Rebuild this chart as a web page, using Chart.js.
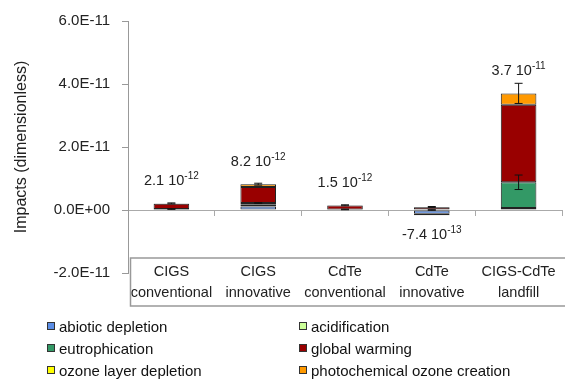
<!DOCTYPE html>
<html>
<head>
<meta charset="utf-8">
<script src="https://cdn.jsdelivr.net/npm/chart.js@4"></script>
<style>
  html, body { margin: 0; padding: 0; background: #fff; }
  #wrap { position: relative; width: 565px; height: 381px; }
  #legend {
    position: absolute; left: 47px; top: 315px;
    display: grid; grid-template-columns: 252px auto; grid-auto-rows: 22px;
    font: 15px 'Liberation Sans', Arial, sans-serif; color: #111;
  }
  #legend div { display: flex; align-items: center; }
  #legend span.sw { width: 6px; height: 6px; border: 1px solid #333; margin-right: 4px; }
</style>
</head>
<body>
<div id="wrap">
  <canvas id="impactChart"></canvas>
  <div id="legend"></div>
</div>
<script>
const categories = [['CIGS', 'conventional'], ['CIGS', 'innovative'], ['CdTe', 'conventional'], ['CdTe', 'innovative'], ['CIGS-CdTe', 'landfill']];
const seriesNames = ['abiotic depletion', 'acidification', 'eutrophication', 'global warming', 'ozone layer depletion', 'photochemical ozone creation'];
const seriesColors = ['#5b8ee6', '#ccff99', '#339966', '#990000', '#ffff00', '#ff9900'];

const abiotic = [0.10e-12, 1.10e-12, 0.05e-12, -1.20e-12, 0.30e-12];
const acidification = [0.05e-12, 0.60e-12, 0.03e-12, -0.05e-12, 0.30e-12];
const eutrophication = [0.15e-12, 0.50e-12, 0.10e-12, -0.45e-12, 8.20e-12];
const globalWarming = [1.70e-12, 5.10e-12, 1.25e-12, 0.90e-12, 24.6e-12];
const ozoneDepletion = [0.00, 0.02e-12, 0.00, 0.00, 0.02e-12];
const photochemical = [0.10e-12, 0.88e-12, 0.07e-12, 0.06e-12, 3.60e-12];

const errTotal = [0.15e-12, 0.3e-12, 0.15e-12, 0.15e-12, 3.2e-12];
const errEutro = [0.1e-12, 0.15e-12, 0.1e-12, 0.1e-12, 2.3e-12];

const totalMantissa = ['2.1', '8.2', '1.5', '-7.4', '3.7'];
const totalExponent = ['-12', '-12', '-12', '-13', '-11'];

const yTicks = [-2e-11, 0, 2e-11, 4e-11, 6e-11];

const FONT = "'Liberation Sans', Arial, sans-serif";
const series = [abiotic, acidification, eutrophication, globalWarming, ozoneDepletion, photochemical];

function fmtExp(v) {
    if (Math.abs(v) < 1e-15) return '0.0E+00';
    const parts = v.toExponential(1).split('e');
    const e = parseInt(parts[1], 10);
    return parts[0] + 'E' + (e < 0 ? '-' : '+') + String(Math.abs(e)).padStart(2, '0');
}

const overlay = {
    id: 'overlay',
    beforeDatasetsDraw(chart) {
        // box holding the category names
        const ctx = chart.ctx, a = chart.chartArea;
        ctx.save();
        ctx.strokeStyle = '#999';
        ctx.lineWidth = 1.5;
        ctx.strokeRect(a.left + 2.5, a.bottom - 15, chart.width, 48);
        ctx.restore();
    },
    afterDatasetsDraw(chart) {
        const ctx = chart.ctx;
        const x = chart.scales.x, y = chart.scales.y;
        ctx.save();
        ctx.strokeStyle = '#111';
        ctx.lineWidth = 1;
        categories.forEach((c, i) => {
            let pos = 0, neg = 0, eut = 0;
            series.forEach((s, k) => {
                if (s[i] >= 0) pos += s[i]; else neg += s[i];
                if (k === 2) eut = pos;
            });
            const cx = x.getPixelForValue(i);
            [[pos, errTotal[i]], [eut, errEutro[i]]].forEach(([v, e]) => {
                const y1 = y.getPixelForValue(v + e), y2 = y.getPixelForValue(v - e);
                ctx.beginPath();
                ctx.moveTo(cx, y1); ctx.lineTo(cx, y2);
                ctx.moveTo(cx - 4, y1); ctx.lineTo(cx + 4, y1);
                ctx.moveTo(cx - 4, y2); ctx.lineTo(cx + 4, y2);
                ctx.stroke();
            });
            // value label with superscript exponent
            const ty = (pos + neg) >= 0 ? y.getPixelForValue(pos) - 22 : y.getPixelForValue(neg) + 20;
            const main = totalMantissa[i] + ' 10';
            ctx.font = '14.5px ' + FONT;
            const w1 = ctx.measureText(main).width;
            ctx.font = '10px ' + FONT;
            const w2 = ctx.measureText(totalExponent[i]).width;
            const x0 = cx - (w1 + w2) / 2;
            ctx.fillStyle = '#222';
            ctx.textBaseline = 'middle';
            ctx.textAlign = 'left';
            ctx.font = '14.5px ' + FONT;
            ctx.fillText(main, x0, ty);
            ctx.font = '10px ' + FONT;
            ctx.fillText(totalExponent[i], x0 + w1, ty - 5);
        });
        ctx.restore();
    }
};

new Chart(document.getElementById('impactChart').getContext('2d'), {
    type: 'bar',
    data: {
        labels: categories.map(c => c.join(' ')),
        datasets: series.map((s, k) => ({
            label: seriesNames[k],
            data: s,
            backgroundColor: seriesColors[k],
            borderColor: '#222',
            borderWidth: 1,
            borderSkipped: false,
            barPercentage: 0.41,
            categoryPercentage: 1.0
        }))
    },
    options: {
        responsive: true,
        maintainAspectRatio: false,
        animation: false,
        layout: { padding: { top: 17, right: 3, bottom: 108, left: 0 } },
        plugins: { legend: { display: false }, tooltip: { enabled: false } },
        scales: {
            x: {
                stacked: true,
                position: { y: 0 },
                offset: true,
                ticks: { display: false },
                grid: { offset: true, drawOnChartArea: false, tickLength: 5, color: '#aaa' },
                border: { color: '#aaa' }
            },
            x2: {
                type: 'category',
                labels: categories,
                position: { y: yTicks[0] },
                offset: true,
                grid: { display: false, drawTicks: false },
                border: { display: false },
                ticks: { padding: -12, color: '#222', maxRotation: 0, autoSkip: false,
                         font: { family: FONT, size: 14.5, lineHeight: 1.45 } }
            },
            y: {
                stacked: true,
                min: yTicks[0],
                max: yTicks[yTicks.length - 1],
                afterBuildTicks: s => { s.ticks = yTicks.map(v => ({ value: v })); },
                ticks: { callback: v => fmtExp(v), padding: 12, color: '#222', font: { family: FONT, size: 15 } },
                grid: { drawOnChartArea: false, tickLength: 6, color: '#999' },
                border: { color: '#999' },
                title: { display: true, text: 'Impacts (dimensionless)', color: '#222',
                         font: { family: FONT, size: 16 }, padding: { top: 12, bottom: 0 } },
                afterFit: s => { s.width = 128; }
            }
        }
    },
    plugins: [overlay]
});

const legend = document.getElementById('legend');
seriesNames.forEach((name, k) => {
    const item = document.createElement('div');
    item.innerHTML = '<span class="sw" style="background:' + seriesColors[k] + '"></span>' + name;
    legend.appendChild(item);
});
</script>
</body>
</html>
